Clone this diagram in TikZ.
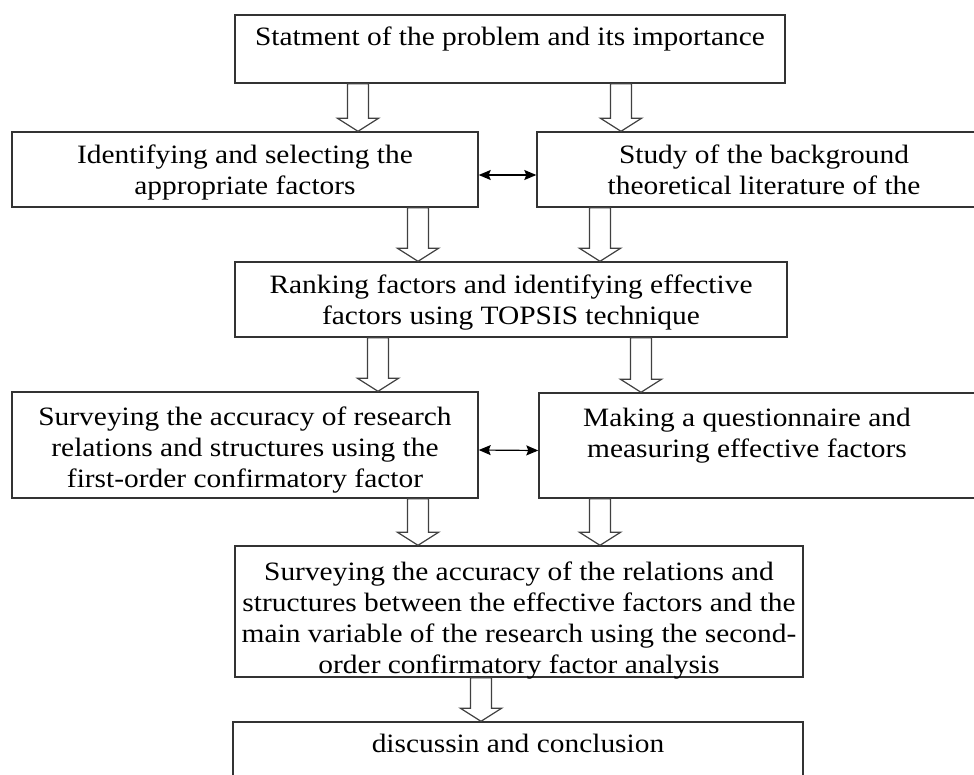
\documentclass[tikz,border=0pt]{standalone}
\usepackage{fontspec}
\setmainfont{Liberation Serif}[FakeStretch=1.11]
\usepackage{tikz}
\usetikzlibrary{calc, arrows.meta}

\newcommand{\stagefont}{\fontsize{26.5pt}{31pt}\selectfont}

\tikzset{
  stage/.style={draw=black!80, line width=1.4pt, rectangle, align=center, font=\stagefont, text depth=0pt},
  hollow/.style={draw=black!75, line width=1.2pt, fill=white,
    to path={let \p1=(\tikztostart), \p2=(\tikztotarget) in
      (\x1-10.5pt,\y1) -- (\x1+10.5pt,\y1) -- (\x1+10.5pt,\y2+13pt) -- (\x1+20.5pt,\y2+13pt)
      -- (\x1,\y2) -- (\x1-20.5pt,\y2+13pt) -- (\x1-10.5pt,\y2+13pt) -- cycle}},
  link/.style={{Stealth[length=12pt,width=10pt,inset=2pt]}-{Stealth[length=12pt,width=10pt,inset=2pt]}, line width=1.2pt}
}

\begin{document}
\begin{tikzpicture}[x=1pt, y=-1pt]
        \useasboundingbox (0,0) rectangle (974,774);
        \clip (0,0) rectangle (974,774);

        % Draw the nodes
        \node[stage, text depth=26pt, minimum width=550pt, minimum height=68pt] (stmt) at (510, 49) {Statment of the problem and its importance};
        \node[stage, minimum width=466pt, minimum height=75pt] (ident) at (245, 169.5) {Identifying and selecting the\\appropriate factors};
        \node[stage, minimum width=454pt, minimum height=75pt] (study) at (764, 169.5) {Study of the background\\theoretical literature of the};
        \node[stage, minimum width=552pt, minimum height=75pt] (rank) at (511, 299.5) {Ranking factors and identifying effective\\factors using TOPSIS technique};
        \node[stage, text height=84pt, minimum width=466pt, minimum height=106pt] (first) at (245, 445) {Surveying the accuracy of research\\relations and structures using the\\first-order confirmatory factor};
        \node[stage, text depth=26pt, minimum width=452pt, minimum height=105pt] (quest) at (765, 445.5) {\hspace*{-36pt}Making a questionnaire and\\\hspace*{-36pt}measuring effective factors};
        \node[stage, text height=123pt, minimum width=568pt, minimum height=131pt] (second) at (519, 611.5) {Surveying the accuracy of the relations and\\structures between the effective factors and the\\main variable of the research using the second-\\order confirmatory factor analysis};
        \node[stage, text depth=26pt, minimum width=570pt, minimum height=68pt] (concl) at (518, 756) {discussin and conclusion};

        % Draw the arrows
        \draw[hollow] ([xshift=-152pt]stmt.south) to (ident.north);
        \draw[hollow] ([xshift=111pt]stmt.south) to (study.north);
        \draw[hollow] ([xshift=173pt]ident.south) to (rank.north);
        \draw[hollow] ([xshift=-164pt]study.south) to (rank.north);
        \draw[hollow] ([xshift=-133pt]rank.south) to (first.north);
        \draw[hollow] ([xshift=130pt]rank.south) to (quest.north);
        \draw[hollow] ([xshift=173pt]first.south) to (second.north);
        \draw[hollow] ([xshift=-165pt]quest.south) to (second.north);
        \draw[hollow] ([xshift=-38pt]second.south) to (concl.north);
        \draw[link] ([yshift=-5.5pt]ident.east) -- ([yshift=-5.5pt]study.west);
        \draw[link] ([yshift=-5pt]first.east) -- ([yshift=-5pt]quest.west);
    \end{tikzpicture}
\end{document}
